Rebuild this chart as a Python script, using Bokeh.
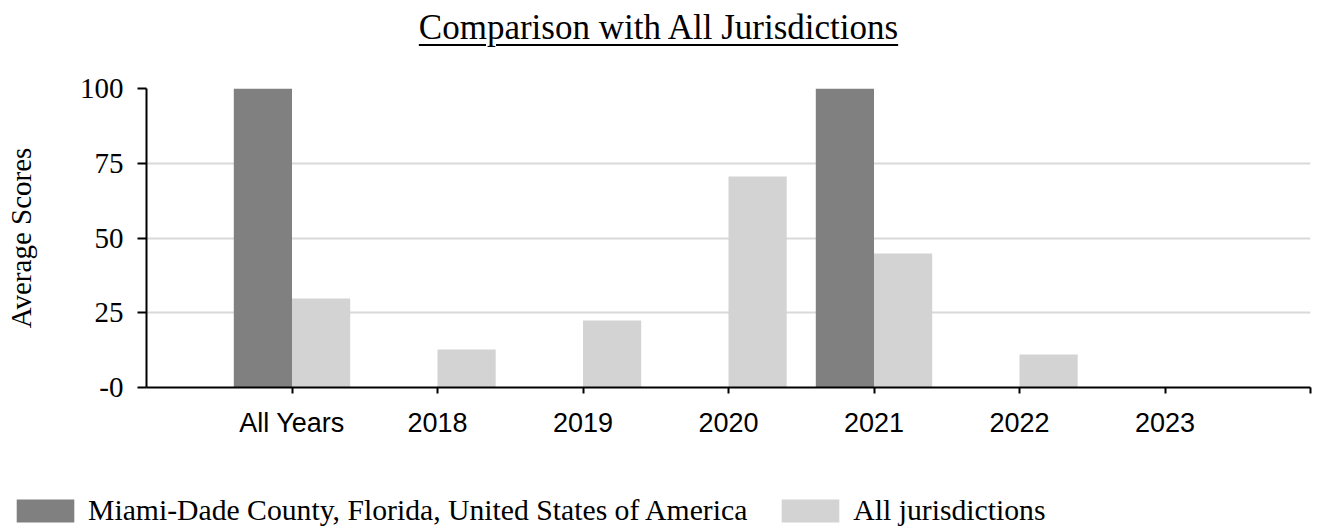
from bokeh.plotting import figure
from bokeh.models import (ColumnDataSource, FixedTicker, Range1d, Legend, LegendItem, Div)
from bokeh.layouts import column
from bokeh.transform import dodge
from bokeh.embed import file_html
from bokeh.resources import INLINE

categories = ["All Years", "2018", "2019", "2020", "2021", "2022", "2023"]
miami = [100, 0, 0, 0, 100, 0, 0]
all_jur = [29.8, 12.7, 22.4, 70.6, 44.8, 11.0, 0]
y_ticks = [0, 25, 50, 75, 100]
series_names = ["Miami-Dade County, Florida, United States of America", "All jurisdictions"]
colors = ["#808080", "#d3d3d3"]

xs = list(range(len(categories)))
src = ColumnDataSource(dict(x=xs, miami=miami, allj=all_jur))

SERIF = "Liberation Serif"
W = 1317

title = Div(
    text='<div style="width:1317px;box-sizing:border-box;text-align:center;padding-right:10px;'
         'font-family:\'Liberation Serif\';font-size:35px;line-height:38px;padding-top:4px;'
         'text-decoration:underline;text-decoration-thickness:2px;text-underline-offset:5px;'
         'color:#000;white-space:nowrap;">'
         'Comparison with All Jurisdictions</div>',
    width=W, height=50,
)

p = figure(width=W, height=428, output_backend="svg", toolbar_location=None,
           x_range=Range1d(-1, 7), y_range=Range1d(0, 100),
           min_border_left=146, min_border_right=7, min_border_top=28, min_border_bottom=101)
p.outline_line_color = None

r1 = p.vbar(x=dodge("x", -0.2), top="miami", width=0.4, source=src, color=colors[0],
            line_color=None)
r2 = p.vbar(x=dodge("x", 0.2), top="allj", width=0.4, source=src, color=colors[1],
            line_color=None)

# x axis
p.xaxis.ticker = FixedTicker(ticks=list(range(len(categories) + 1)))
p.xaxis.major_label_overrides = {**{i: c for i, c in enumerate(categories)}, len(categories): ""}
p.xaxis.major_label_text_font = "Liberation Sans"
p.xaxis.major_label_text_font_size = "27px"
p.xaxis.major_label_text_color = "#000000"
p.xaxis.major_tick_in = 0
p.xaxis.major_tick_out = 6
p.xaxis.minor_tick_line_color = None
p.xaxis.major_label_standoff = 14
p.xaxis.axis_line_width = 2
p.xaxis.major_tick_line_width = 2
p.xaxis.axis_line_color = "#000000"
p.xaxis.major_tick_line_color = "#000000"

# y axis
p.yaxis.ticker = FixedTicker(ticks=y_ticks)
p.yaxis.major_label_overrides = {0: "-0"}
p.yaxis.major_label_text_font = SERIF
p.yaxis.major_label_text_font_size = "29px"
p.yaxis.major_label_text_color = "#000000"
p.yaxis.major_tick_in = 0
p.yaxis.major_tick_out = 9
p.yaxis.minor_tick_line_color = None
p.yaxis.major_label_standoff = 14
p.yaxis.axis_line_width = 2
p.yaxis.major_tick_line_width = 2
p.yaxis.axis_line_color = "#000000"
p.yaxis.major_tick_line_color = "#000000"
p.yaxis.axis_label = "Average Scores"
p.yaxis.axis_label_text_font = SERIF
p.yaxis.axis_label_text_font_size = "29px"
p.yaxis.axis_label_text_font_style = "normal"
p.yaxis.axis_label_text_color = "#000000"
p.yaxis.axis_label_standoff = 40

p.xgrid.grid_line_color = None
p.ygrid.ticker = FixedTicker(ticks=y_ticks[1:])
p.ygrid.grid_line_color = "#d9d9d9"
p.ygrid.grid_line_width = 2

# legend strip: a separate root so its frame is not aligned with the chart's frame
lf = figure(width=W, height=39, output_backend="svg", toolbar_location=None,
            x_range=Range1d(0, 1), y_range=Range1d(0, 1),
            min_border=0, min_border_left=0, min_border_right=0,
            min_border_top=0, min_border_bottom=0)
lf.axis.visible = False
lf.grid.visible = False
lf.outline_line_color = None
swatch_src = ColumnDataSource(dict(x=[0.5], top=[float("nan")]))
l1 = lf.vbar(x="x", top="top", width=0.1, source=swatch_src, color=colors[0], line_color=None)
l2 = lf.vbar(x="x", top="top", width=0.1, source=swatch_src, color=colors[1], line_color=None)

legend = Legend(items=[LegendItem(label=series_names[0], renderers=[l1], index=0),
                       LegendItem(label=series_names[1], renderers=[l2], index=0)],
                orientation="horizontal", location=(9, 0),
                glyph_width=72, glyph_height=29, label_standoff=7, spacing=27,
                padding=0, margin=0, border_line_alpha=0, background_fill_alpha=0,
                label_text_font=SERIF, label_text_font_size="29.7px",
                label_text_color="#000000", label_height=29)
lf.add_layout(legend, "center")

open("out.html", "w").write(file_html([column(title, p, spacing=0), lf], INLINE))
